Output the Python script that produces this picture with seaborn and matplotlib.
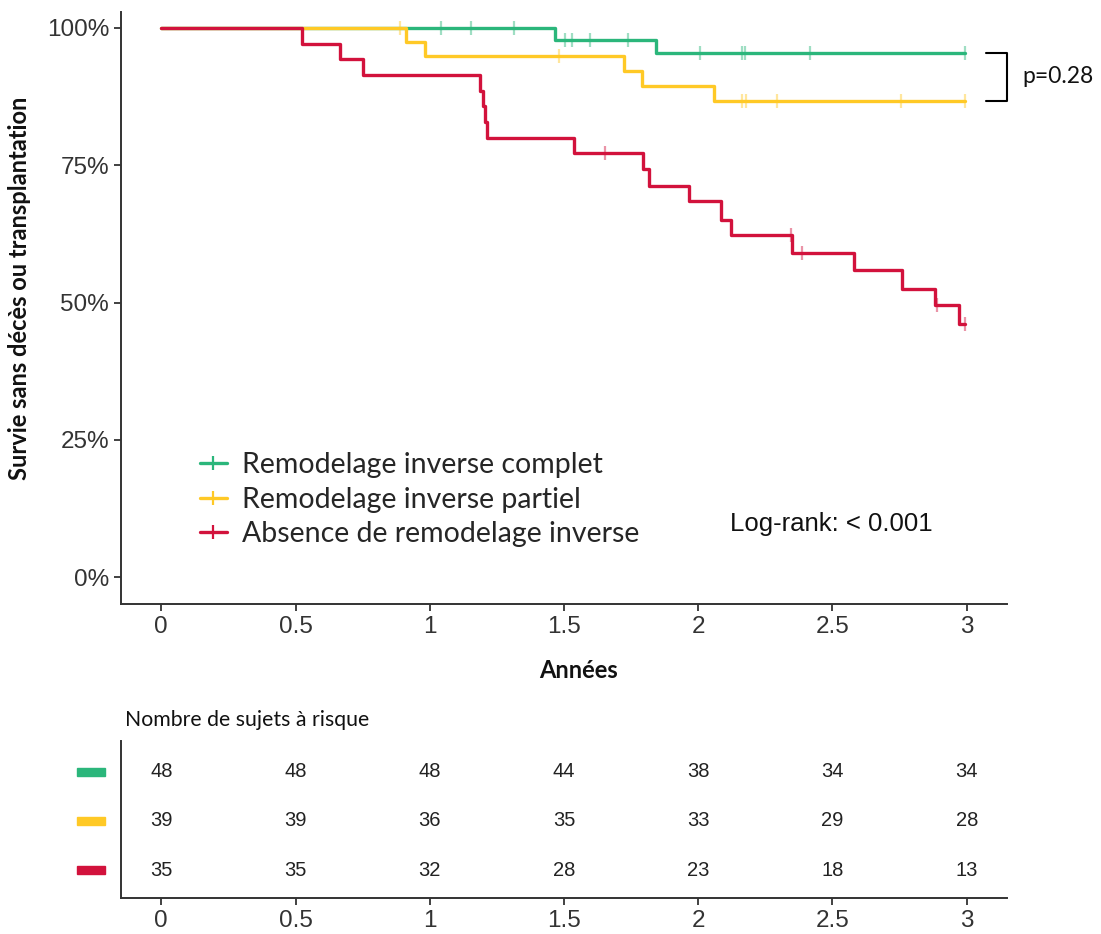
import matplotlib
matplotlib.use('Agg')
import matplotlib.pyplot as plt
import matplotlib.transforms as mtransforms
from matplotlib.lines import Line2D
from matplotlib.patches import Rectangle
from matplotlib.ticker import PercentFormatter
import numpy as np
import pandas as pd
import seaborn as sns

# --- data --------------------------------------------------------------
GROUPS = ['Remodelage inverse complet', 'Remodelage inverse partiel', 'Absence de remodelage inverse']
COLORS = ['#2BB67B', '#FFC926', '#D2123C']

complet_times = [0.0, 1.465, 1.843]
complet_surv = [1.0, 0.978, 0.955]
complet_cens = [1.043, 1.155, 1.313, 1.502, 1.530, 1.595, 1.740, 2.006, 2.164, 2.174, 2.416, 2.995]

partiel_times = [0.0, 0.913, 0.981, 1.725, 1.790, 2.059]
partiel_surv = [1.0, 0.974, 0.949, 0.921, 0.894, 0.867]
partiel_cens = [0.891, 1.483, 2.164, 2.179, 2.292, 2.756, 2.995]

absence_times = [0.0, 0.523, 0.665, 0.752, 1.186, 1.198, 1.205, 1.213, 1.539, 1.796,
                 1.817, 1.967, 2.083, 2.121, 2.350, 2.580, 2.760, 2.881, 2.970]
absence_surv = [1.0, 0.971, 0.943, 0.914, 0.886, 0.857, 0.829, 0.800, 0.773, 0.743,
                0.712, 0.684, 0.651, 0.623, 0.591, 0.559, 0.525, 0.495, 0.460]
absence_cens = [1.653, 2.347, 2.385, 2.890, 2.995]

risk_times = [0, 0.5, 1, 1.5, 2, 2.5, 3]
risk_complet = [48, 48, 48, 44, 38, 34, 34]
risk_partiel = [39, 39, 36, 35, 33, 29, 28]
risk_absence = [35, 35, 32, 28, 23, 18, 13]

x_ticks = [0, 0.5, 1, 1.5, 2, 2.5, 3]
y_ticks = [0, 0.25, 0.5, 0.75, 1.0]
logrank_text = 'Log-rank: < 0.001'
pair_text = 'p=0.28'


def step_value(times, surv, t):
    idx = np.searchsorted(times, t, side='right') - 1
    return surv[idx]


def main() -> None:
    sns.set_theme(style='ticks')
    plt.rcParams['font.family'] = ['Liberation Sans', 'DejaVu Sans']
    dark = '#333333'
    calib = ['Lato', 'DejaVu Sans']

    curves = [(complet_times, complet_surv, complet_cens),
              (partiel_times, partiel_surv, partiel_cens),
              (absence_times, absence_surv, absence_cens)]
    line_rows, cens_rows = [], []
    for name, (times, surv, cens) in zip(GROUPS, curves):
        for t, s in zip(times, surv):
            line_rows.append((name, t, s))
        line_rows.append((name, max(cens), surv[-1]))
        for t in cens:
            cens_rows.append((name, t, step_value(times, surv, t)))
    lines = pd.DataFrame(line_rows, columns=['group', 'time', 'surv'])
    cens_df = pd.DataFrame(cens_rows, columns=['group', 'time', 'surv'])
    palette = dict(zip(GROUPS, COLORS))

    fig = plt.figure(figsize=(11.01, 9.34), dpi=100)
    ax = fig.add_axes([121 / 1101, 1 - 604 / 934, 886 / 1101, 592 / 934])
    tab = fig.add_axes([121 / 1101, 1 - 898 / 934, 886 / 1101, 157 / 934])

    for name in GROUPS:
        sub = lines[lines['group'] == name]
        sns.lineplot(data=sub, x='time', y='surv', color=palette[name], drawstyle='steps-post',
                     estimator=None, sort=False, lw=2.4, ax=ax)
        csub = cens_df[cens_df['group'] == name]
        ax.plot(csub['time'], csub['surv'], ls='none', marker='|', ms=10, mew=1.6,
                color=palette[name], alpha=0.45)

    ax.set_xlim(-0.15, 3.15)
    ax.set_ylim(-0.049, 1.029)
    ax.set_xticks(x_ticks)
    ax.set_xticklabels([f'{v:g}' for v in x_ticks])
    ax.set_yticks(y_ticks)
    ax.yaxis.set_major_formatter(PercentFormatter(1.0, decimals=0))
    ax.tick_params(labelsize=17.5, colors=dark, length=5, width=1.3)
    for side in ['top', 'right']:
        ax.spines[side].set_visible(False)
    for side in ['left', 'bottom']:
        ax.spines[side].set_color(dark)
        ax.spines[side].set_linewidth(1.4)

    ax.set_xlabel('Années', fontsize=17, fontweight='bold', family=calib, color='#111111')
    ax.xaxis.label.set_va('center')
    ax.xaxis.set_label_coords(0.516, -0.1115)
    ax.set_ylabel('Survie sans décès ou transplantation', fontsize=17, fontweight='bold',
                  family=calib, color='#111111')
    ax.yaxis.label.set_va('center')
    ax.yaxis.set_label_coords(-0.114, 0.534)

    handles = [Line2D([], [], color=c, lw=2.4, marker='|', ms=10, mew=1.6) for c in COLORS]
    ax.legend(handles, GROUPS, loc='center left', bbox_to_anchor=(0.089, 0.176),
              frameon=False, handlelength=0.95, handletextpad=0.52,
              labelspacing=0.3, borderpad=0, borderaxespad=0,
              prop={'family': calib, 'size': 20.5})

    ax.text(0.687, 0.135, logrank_text, transform=ax.transAxes, fontsize=18.5, color='#111111',
            va='center', ha='left')

    blend = mtransforms.blended_transform_factory(ax.transAxes, ax.transData)
    y_top, y_bot = complet_surv[-1], partiel_surv[-1]
    ax.plot([0.976, 1.0, 1.0, 0.976], [y_top, y_top, y_bot, y_bot], color='black', lw=1.5,
            transform=blend, clip_on=False)
    ax.text(1.017, (y_top + y_bot) / 2, pair_text, transform=blend, fontsize=16.5,
            family=calib, va='center', ha='left', color='#111111')

    # --- risk table ---
    rows = [3, 2, 1]
    tblend = mtransforms.blended_transform_factory(tab.transAxes, tab.transData)
    for row, counts, color in zip(rows, [risk_complet, risk_partiel, risk_absence], COLORS):
        for t, n in zip(risk_times, counts):
            tab.text(t, row, str(n), ha='center', va='center', fontsize=14.5, color='#222222')
        tab.add_patch(Rectangle((-0.0497, row - 0.085), 0.0316, 0.17, transform=tblend,
                                color=color, clip_on=False))
    tab.set_xlim(-0.15, 3.15)
    tab.set_ylim(0.43, 3.63)
    tab.set_xticks(x_ticks)
    tab.set_xticklabels([f'{v:g}' for v in x_ticks])
    tab.set_yticks([])
    tab.tick_params(axis='x', labelsize=17.5, colors=dark, length=5, width=1.3)
    for side in ['top', 'right']:
        tab.spines[side].set_visible(False)
    for side in ['left', 'bottom']:
        tab.spines[side].set_color(dark)
        tab.spines[side].set_linewidth(1.4)
    fig.text(125 / 1101, 1 - 720 / 934, 'Nombre de sujets à risque', fontsize=15.3,
             family=calib, va='center', ha='left', color='#111111')

    fig.savefig('out.png', dpi=100)
    plt.close(fig)


if __name__ == '__main__':
    main()
